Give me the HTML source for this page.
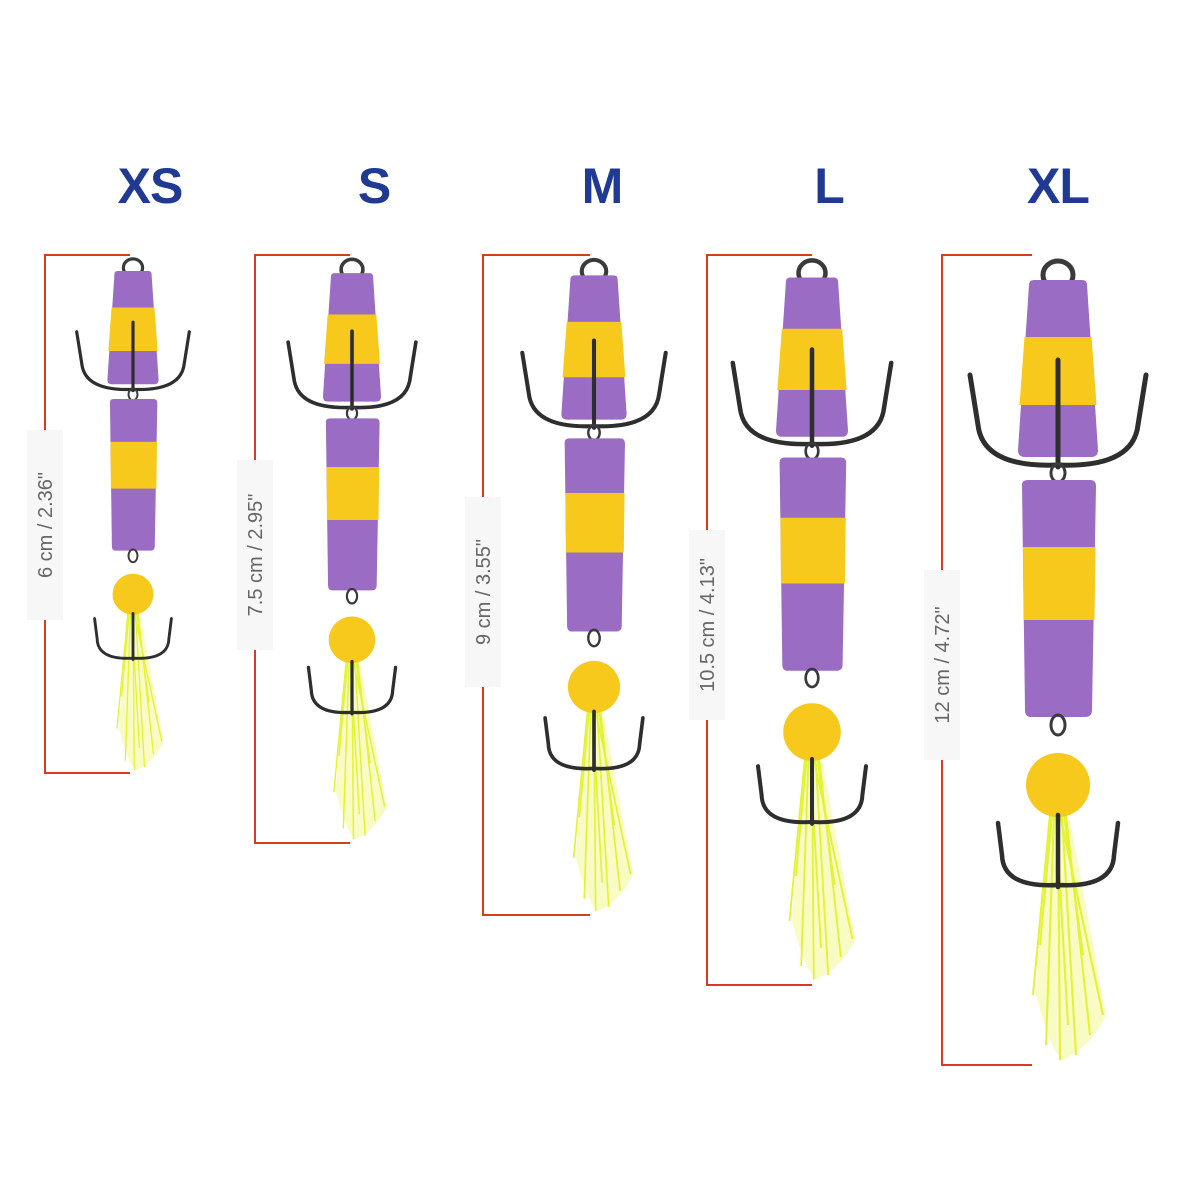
<!DOCTYPE html>
<html><head><meta charset="utf-8"><style>
html,body{margin:0;padding:0;background:#fff;}
svg{display:block}
</style></head><body>
<svg width="1200" height="1200" viewBox="0 0 1200 1200" xmlns="http://www.w3.org/2000/svg">
<defs>
<g id="lure">
  <!-- tail -->
  <path d="M-10 565 L-22 740 Q-8 795 5 805 Q35 790 48 760 L12 565 Z" fill="#f1f88a" opacity="0.5"/>
  <g stroke="#e2f234" stroke-width="2" fill="none">
    <path d="M-8 560 L-25 740"/><path d="M-4 560 L-12 790"/><path d="M0 560 L2 805"/>
    <path d="M4 560 L18 800"/><path d="M8 560 L32 780"/><path d="M2 560 L45 760"/>
    <path d="M-2 560 L10 770"/><path d="M6 560 L25 700"/><path d="M-6 560 L-18 690"/>
  </g>
  <!-- top ring -->
  <ellipse cx="0" cy="20" rx="15" ry="14" fill="none" stroke="#3a3a3a" stroke-width="5"/>
  <!-- top float -->
  <path d="M-29 30 Q-29 25 -24 25 L24 25 Q29 25 29 30 L40 195 Q40 202 33 202 L-33 202 Q-40 202 -40 195 Z" fill="#9a6cc4"/>
  <path d="M-33.5 82 L33.5 82 L38.5 150 L-38.5 150 Z" fill="#f7c91d"/>
  <!-- treble hook -->
  <g fill="none" stroke="#2e2e2e" stroke-width="5" stroke-linecap="round">
    <path d="M0 105 L0 212"/>
    <path d="M0 210 Q-75 213 -80 170 L-88 120"/>
    <path d="M0 210 Q75 213 80 170 L88 120"/>
  </g>
  <ellipse cx="0" cy="218" rx="7" ry="9" fill="none" stroke="#3a3a3a" stroke-width="3"/>
  <!-- bottom float -->
  <path d="M-36 230 Q-36 225 -30 225 L32 225 Q38 225 38 231 L34 455 Q34 462 27 462 L-27 462 Q-33 462 -33 455 Z" fill="#9a6cc4"/>
  <path d="M-35 292 L37.5 292 L36.5 365 L-34.5 365 Z" fill="#f7c91d"/>
  <ellipse cx="0" cy="470" rx="7" ry="10" fill="none" stroke="#3a3a3a" stroke-width="3"/>
  <!-- ball -->
  <circle cx="0" cy="530" r="32" fill="#f7c91d"/>
  <!-- bottom treble -->
  <g fill="none" stroke="#2e2e2e" stroke-width="4.5" stroke-linecap="round">
    <path d="M0 560 L0 632"/>
    <path d="M0 630 Q-55 633 -56 600 L-60 568"/>
    <path d="M0 630 Q55 633 56 600 L60 568"/>
  </g>
</g>
</defs>
<g font-family="Liberation Sans, sans-serif" font-weight="bold" font-size="50" fill="#203a93" text-anchor="middle" letter-spacing="-1">
  <text x="150" y="203">XS</text>
  <text x="374" y="203">S</text>
  <text x="602" y="203">M</text>
  <text x="829" y="203">L</text>
  <text x="1058" y="203">XL</text>
</g>
<!-- brackets -->
<g stroke="#d83a22" stroke-width="2" fill="none">
  <path d="M130 255 H45 V773 H130"/>
  <path d="M350 255 H255 V843 H350"/>
  <path d="M590 255 H483 V915 H590"/>
  <path d="M812 255 H707 V985 H812"/>
  <path d="M1032 255 H942 V1065 H1032"/>
</g>
<g font-family="Liberation Sans, sans-serif" font-size="20" fill="#666" text-anchor="middle">
  <g transform="translate(45,525) rotate(-90)"><rect x="-95" y="-18" width="190" height="36" fill="#f7f7f7"/><text y="7">6 cm / 2.36"</text></g>
  <g transform="translate(255,555) rotate(-90)"><rect x="-95" y="-18" width="190" height="36" fill="#f7f7f7"/><text y="7">7.5 cm / 2.95"</text></g>
  <g transform="translate(483,592) rotate(-90)"><rect x="-95" y="-18" width="190" height="36" fill="#f7f7f7"/><text y="7">9 cm / 3.55"</text></g>
  <g transform="translate(707,625) rotate(-90)"><rect x="-95" y="-18" width="190" height="36" fill="#f7f7f7"/><text y="7">10.5 cm / 4.13"</text></g>
  <g transform="translate(942,665) rotate(-90)"><rect x="-95" y="-18" width="190" height="36" fill="#f7f7f7"/><text y="7">12 cm / 4.72"</text></g>
</g>
<use href="#lure" transform="translate(133,255) scale(0.64)"/>
<use href="#lure" transform="translate(352,255) scale(0.726)"/>
<use href="#lure" transform="translate(594,255) scale(0.815)"/>
<use href="#lure" transform="translate(812,255) scale(0.9)"/>
<use href="#lure" transform="translate(1058,255) scale(1)"/>
</svg>
</body></html>
